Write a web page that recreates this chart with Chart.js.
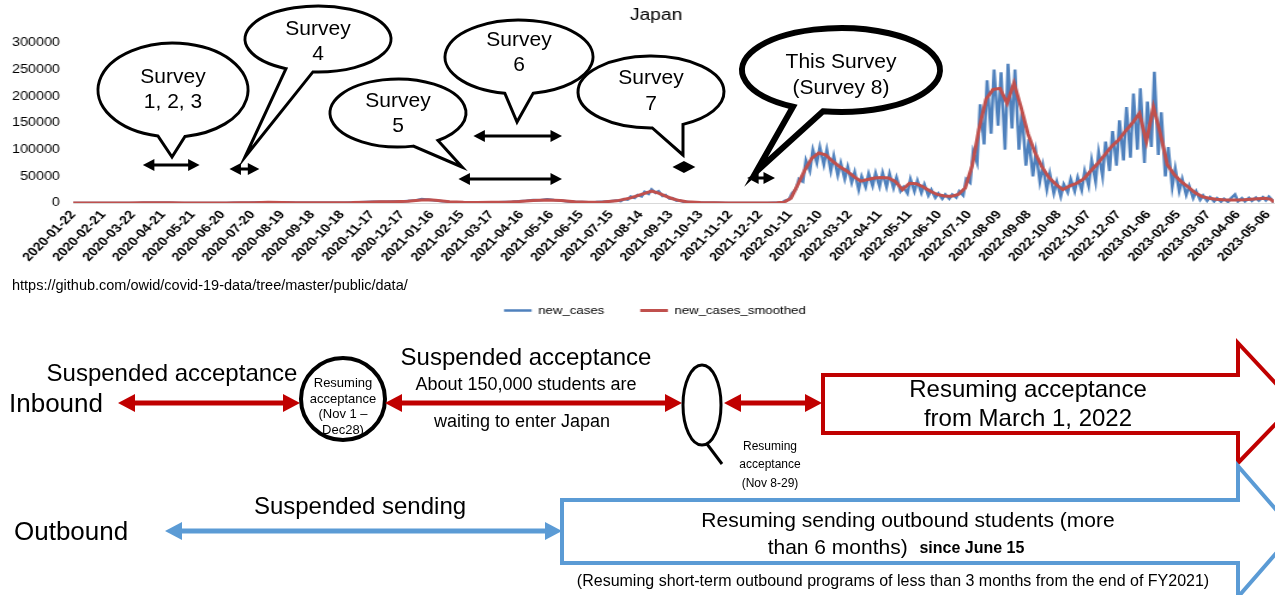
<!DOCTYPE html>
<html>
<head>
<meta charset="utf-8">
<script src="https://cdn.jsdelivr.net/npm/chart.js@4.4.0/dist/chart.umd.min.js"></script>
<style>
    html, body { margin: 0; padding: 0; background: #fff; }
    #wrap { position: relative; width: 1275px; height: 595px; overflow: hidden; }
    #chart { position: absolute; left: 0; top: 0; }
    #overlay { position: absolute; left: 0; top: 0; pointer-events: none; }
</style>
</head>
<body>
<div id="wrap">
    <canvas id="chart" width="1063" height="326" style="width:1275px;height:326px"></canvas>
    <canvas id="overlay" width="1275" height="595"></canvas>
</div>
<script>
// days counted from 2020-01-22
const newCasesDay = [
    0, 7, 14, 21, 28, 35, 42, 49, 56, 63, 70, 77, 84, 91, 98, 105, 112, 119, 126, 133,
    140, 147, 154, 161, 168, 175, 182, 189, 196, 203, 210, 217, 224, 231, 238, 245, 252, 259, 266, 273,
    280, 287, 294, 301, 308, 315, 322, 329, 336, 343, 350, 357, 364, 371, 378, 385, 392, 399, 406, 413,
    420, 427, 434, 441, 448, 455, 462, 469, 476, 483, 490, 497, 504, 511, 518, 525, 532, 539,
    546, 550, 553, 557, 560, 564, 567, 571, 574, 578, 581, 585, 588, 592, 595, 599, 602, 606, 609, 613, 616, 620,
    627, 634, 641, 648, 655, 662, 669, 676, 683, 690, 697, 704, 708,
    712, 715, 719, 722, 726, 729, 733, 736, 740, 743, 747, 750, 754, 757, 761, 764, 768, 771, 775, 778,
    782, 785, 789, 792, 796, 799, 803, 806, 810, 813, 817, 820, 824, 827, 831, 834, 838, 841, 845, 848,
    852, 855, 859, 862, 866, 869, 873, 876, 880, 883, 887, 890, 894, 897, 901, 904, 908, 911, 915, 918,
    922, 925, 929, 932, 936, 939, 943, 946, 950, 953, 957, 960, 964, 967, 971, 974, 978, 981, 985, 988,
    992, 995, 999, 1002, 1006, 1009, 1013, 1016, 1020, 1023, 1027, 1030, 1034, 1037, 1041, 1044, 1048, 1051, 1055, 1058,
    1062, 1065, 1069, 1072, 1076, 1079, 1083, 1086, 1090, 1093, 1097, 1100, 1104, 1107, 1111, 1114, 1118, 1121, 1125, 1128,
    1132, 1135, 1139, 1142, 1146, 1149, 1153, 1156, 1160, 1163, 1167, 1170, 1174, 1177, 1181, 1184, 1188, 1191, 1195, 1198,
    1201, 1204, 1206
];
const newCasesValue = [
    0, 0, 5, 10, 15, 10, 30, 40, 80, 150, 250, 400, 550, 500, 350, 200, 100, 50, 40, 30,
    50, 80, 120, 250, 400, 650, 900, 1300, 1400, 1200, 1000, 800, 600, 500, 450, 550, 500, 600, 550, 700,
    900, 1300, 1800, 2200, 2400, 2300, 2800, 3000, 3800, 4500, 7500, 6000, 4500, 3500, 2000, 1500, 1200, 1000, 1300, 1100,
    1500, 1400, 2000, 2500, 3500, 4300, 5500, 5000, 7000, 5500, 4500, 3000, 2200, 1800, 1500, 1800, 2500, 3200,
    4500, 3500, 7500, 6500, 12000, 9500, 15000, 12500, 21000, 17000, 25500, 19000, 22000, 13000, 15000, 8000, 9000, 4500, 5000, 2200, 2500, 1500,
    900, 500, 400, 280, 180, 150, 130, 160, 150, 200, 180, 350, 500,
    800, 4500, 6500, 18000, 26000, 45000, 40000, 80000, 60000, 100000, 75000, 105000, 72000, 100000, 60000, 88000, 52000, 75000, 45000, 68000,
    38000, 58000, 25000, 50000, 30000, 55000, 32000, 56000, 31000, 57000, 30000, 55000, 28000, 48000, 22000, 30000, 18000, 45000, 22000, 42000,
    19000, 35000, 14000, 25000, 10000, 18000, 8000, 16000, 8000, 16000, 10000, 22000, 14000, 45000, 38000, 97000, 75000, 185000, 110000, 230000,
    130000, 250000, 145000, 245000, 100000, 261000, 140000, 250000, 100000, 170000, 70000, 120000, 50000, 95000, 40000, 70000, 25000, 55000, 18000, 40000,
    12000, 35000, 20000, 45000, 22000, 48000, 24000, 60000, 32000, 80000, 40000, 95000, 50000, 115000, 60000, 135000, 70000, 155000, 80000, 180000,
    85000, 205000, 100000, 215000, 75000, 190000, 105000, 246000, 90000, 170000, 50000, 105000, 30000, 65000, 22000, 45000, 15000, 32000, 9000, 22000,
    6000, 14000, 4000, 11000, 3000, 9000, 2500, 8000, 2000, 9000, 16000, 3000, 9000, 3000, 9500, 4000, 10000, 4500, 11000, 5000,
    12000, 6000, 1000
];

const smoothedDay = [
    0, 28, 56, 70, 84, 98, 112, 126, 140, 154, 168, 182, 196, 210, 224, 238, 252, 266, 280, 294,
    308, 322, 336, 350, 357, 364, 378, 392, 406, 420, 434, 448, 462, 476, 490, 504, 518, 532, 546, 560,
    574, 581, 588, 595, 602, 609, 616, 630, 644, 658, 672, 686, 700, 707, 714, 721, 728, 735, 742, 749,
    756, 763, 770, 777, 784, 791, 798, 805, 812, 819, 826, 833, 840, 847, 854, 861, 868, 875, 882, 889,
    896, 903, 910, 917, 924, 931, 938, 945, 952, 959, 966, 973, 980, 987, 994, 1001, 1008, 1015, 1022, 1029,
    1036, 1043, 1050, 1057, 1064, 1071, 1078, 1085, 1092, 1099, 1106, 1113, 1120, 1127, 1134, 1141, 1148, 1155, 1162, 1169,
    1176, 1183, 1190, 1197, 1203, 1206
];
const smoothedValue = [
    0, 10, 60, 250, 550, 400, 150, 40, 40, 100, 250, 700, 1300, 1100, 700, 500, 550, 600, 800, 1500,
    2200, 2400, 3200, 5500, 6300, 5200, 2500, 1300, 1100, 1200, 1500, 2800, 4700, 5800, 4500, 2300, 1600, 2000, 4000, 9500,
    18000, 22500, 18500, 13000, 8000, 4500, 2500, 800, 350, 200, 150, 150, 200, 400, 1500, 9000, 35000, 62000, 84000, 94000,
    90000, 78000, 68000, 60000, 50000, 41000, 44000, 47000, 48000, 47000, 40000, 25000, 37000, 36000, 30000, 22000, 16000, 13000, 12500, 16000,
    28000, 70000, 140000, 195000, 213000, 215000, 187000, 225000, 180000, 130000, 95000, 68000, 48000, 35000, 25000, 32000, 37000, 45000, 60000, 74000,
    90000, 106000, 118000, 135000, 150000, 168000, 115000, 180000, 130000, 72000, 53000, 40000, 30000, 19000, 12000, 9000, 7000, 6000, 5500, 5500,
    6000, 7000, 8000, 9000, 7000, 1500
];

const yTicks = [0, 50000, 100000, 150000, 200000, 250000, 300000];

// survey periods shown by the arrows under the callouts
const surveyText = [['Survey', '1, 2, 3'], ['Survey', '4'], ['Survey', '5'], ['Survey', '6'], ['Survey', '7'], ['This Survey', '(Survey 8)']];
const surveyFrom = ['2020-04-01', '2020-06-27', '2021-02-12', '2021-02-27', '2021-09-15', '2021-11-29'];
const surveyTo = ['2020-05-28', '2020-07-27', '2021-05-27', '2021-05-27', '2021-10-08', '2021-12-27'];

const FONT = '"Liberation Sans", Arial, sans-serif';
const SX = 1275 / 1063;
const START = Date.UTC(2020, 0, 22);
const PLOT_BOTTOM = 203;

function dayToLabel(d) {
    return new Date(START + d * 86400000).toISOString().slice(0, 10);
}
function dateToDay(s) {
    return Math.round((Date.parse(s) - START) / 86400000);
}

// callout bubble shapes (page pixels)
const bubbles = [
    { cx: 173, cy: 90, rx: 75, ry: 47, a1: 101.5, a2: 80.8, tip: [172, 157], lw: 3, ay: 165, t1: 77, t2: 102 },
    { cx: 318, cy: 39, rx: 73, ry: 33, a1: 116, a2: 94, tip: [245, 157], lw: 3, ay: 169, t1: 29, t2: 54 },
    { cx: 398, cy: 113, rx: 68, ry: 34, a1: 77, a2: 54, tip: [462, 167], lw: 3, ay: 179, t1: 101, t2: 126 },
    { cx: 519, cy: 57, rx: 74, ry: 37, a1: 101, a2: 79, tip: [517, 122], lw: 3, ay: 136, t1: 40, t2: 65 },
    { cx: 651, cy: 92, rx: 73, ry: 36, a1: 89, a2: 64, tip: [683, 155], lw: 3, ay: 167, t1: 78, t2: 104 },
    { cx: 841, cy: 70, rx: 99, ry: 42, a1: 119, a2: 100.5, tip: [756, 172], lw: 6, ay: 178, t1: 62, t2: 88 }
];

function text(c, s, x, y, size, opt) {
    opt = opt || {};
    c.font = (opt.bold ? 'bold ' : '') + size + 'px ' + FONT;
    c.fillStyle = opt.color || '#000';
    c.textAlign = opt.align || 'center';
    c.textBaseline = 'middle';
    c.fillText(s, x, y);
}

function head(c, x, y, dir, hl, hw) {
    c.beginPath();
    c.moveTo(x, y);
    c.lineTo(x + dir * hl, y - hw);
    c.lineTo(x + dir * hl, y + hw);
    c.closePath();
    c.fill();
}

function doubleArrow(c, x1, x2, y, color, w, hl, hw) {
    c.fillStyle = color;
    c.strokeStyle = color;
    c.lineWidth = w;
    c.lineCap = 'butt';
    if (x2 - x1 > 2 * hl) {
        c.beginPath();
        c.moveTo(x1 + hl - 1, y);
        c.lineTo(x2 - hl + 1, y);
        c.stroke();
    }
    head(c, x1, y, 1, hl, hw);
    head(c, x2, y, -1, hl, hw);
}

function bubble(c, b) {
    const r = Math.PI / 180;
    c.beginPath();
    c.moveTo(b.tip[0], b.tip[1]);
    c.ellipse(b.cx, b.cy, b.rx, b.ry, 0, b.a1 * r, (b.a2 + 360) * r, false);
    c.closePath();
    c.fillStyle = '#fff';
    c.fill();
    c.lineWidth = b.lw;
    c.lineJoin = 'miter';
    c.strokeStyle = '#000';
    c.stroke();
}

function blockArrow(c, x0, top, bot, xh, hTop, hBot, tip, color) {
    const ym = (top + bot) / 2;
    c.beginPath();
    c.moveTo(x0, top);
    c.lineTo(xh, top);
    c.lineTo(xh, hTop);
    c.lineTo(tip, ym);
    c.lineTo(xh, hBot);
    c.lineTo(xh, bot);
    c.lineTo(x0, bot);
    c.closePath();
    c.fillStyle = '#fff';
    c.fill();
    c.lineWidth = 4;
    c.lineJoin = 'miter';
    c.strokeStyle = color;
    c.stroke();
}

// draws the callouts, source note and the inbound / outbound diagram
function drawOverlay(chart) {
    const c = document.getElementById('overlay').getContext('2d');
    c.clearRect(0, 0, 1275, 595);
    const xs = chart.scales.x;
    const px = d => xs.getPixelForValue(d) * SX;

    bubbles.forEach(function(b, i) {
        bubble(c, b);
        text(c, surveyText[i][0], b.cx, b.t1, 21);
        text(c, surveyText[i][1], b.cx, b.t2, 21);
        doubleArrow(c, px(dateToDay(surveyFrom[i])), px(dateToDay(surveyTo[i])), b.ay, '#000', 3, 11.5, 6);
    });

    text(c, 'https://github.com/owid/covid-19-data/tree/master/public/data/', 12, 286, 14.5, { align: 'left' });

    const red = '#c00000';
    const blue = '#5b9bd5';

    // inbound row
    text(c, 'Suspended acceptance', 172, 374, 24);
    text(c, 'Inbound', 9, 405, 26, { align: 'left' });
    doubleArrow(c, 118, 300, 403, red, 5, 17, 9);
    c.beginPath();
    c.ellipse(343, 399, 42, 41, 0, 0, Math.PI * 2);
    c.lineWidth = 4; c.strokeStyle = '#000'; c.stroke();
    text(c, 'Resuming', 343, 383, 13);
    text(c, 'acceptance', 343, 399, 13);
    text(c, '(Nov 1 \u2013', 343, 414, 13);
    text(c, 'Dec28)', 343, 430, 13);

    text(c, 'Suspended acceptance', 526, 358, 24);
    text(c, 'About 150,000 students are', 526, 385, 18);
    text(c, 'waiting to enter Japan', 522, 422, 18);
    doubleArrow(c, 385, 682, 403, red, 5, 17, 9);

    c.beginPath();
    c.ellipse(702, 405, 19, 40, 0, 0, Math.PI * 2);
    c.lineWidth = 3; c.strokeStyle = '#000'; c.stroke();
    c.beginPath();
    c.moveTo(707, 444); c.lineTo(722, 464); c.stroke();
    text(c, 'Resuming', 770, 447, 12);
    text(c, 'acceptance', 770, 465, 12);
    text(c, '(Nov 8-29)', 770, 484, 12);
    doubleArrow(c, 724, 822, 403, red, 5, 17, 9);

    blockArrow(c, 823, 375, 433, 1238, 343, 463, 1295, red);
    text(c, 'Resuming acceptance', 1028, 390, 24);
    text(c, 'from March 1, 2022', 1028, 419, 24);

    // outbound row
    text(c, 'Outbound', 14, 533, 26, { align: 'left' });
    text(c, 'Suspended sending', 360, 507, 24);
    doubleArrow(c, 165, 562, 531, blue, 5, 17, 9);

    blockArrow(c, 562, 500, 563, 1238, 466, 597, 1295, blue);
    text(c, 'Resuming sending outbound students (more', 908, 521, 21);
    c.font = '21px ' + FONT;
    const w1 = c.measureText('than 6 months)  ').width;
    c.font = 'bold 16px ' + FONT;
    const w2 = c.measureText('since June 15').width;
    const x0 = 896 - (w1 + w2) / 2;
    text(c, 'than 6 months)  ', x0, 548, 21, { align: 'left' });
    text(c, 'since June 15', x0 + w1, 549, 16, { align: 'left', bold: true });
    text(c, '(Resuming short-term outbound programs of less than 3 months from the end of FY2021)', 893, 582, 16);
}

const titlePlugin = {
    id: 'titleAndOverlay',
    afterLayout(chart) {
        // move the legend a little right, as in the source figure
        chart.legend.left += 15;
        chart.legend.right += 15;
    },
    afterDraw(chart) {
        const ctx = chart.ctx;
        ctx.save();
        text(ctx, 'Japan', 547, 16, 16);
        ctx.restore();
    },
    afterRender(chart) {
        drawOverlay(chart);
    }
};

const ctx = document.getElementById('chart').getContext('2d');
new Chart(ctx, {
    type: 'line',
    data: {
        datasets: [{
            label: 'new_cases',
            data: newCasesDay.map((d, i) => ({ x: d, y: newCasesValue[i] })),
            borderColor: '#4f81bd',
            backgroundColor: '#4f81bd',
            borderWidth: 2.5,
            pointRadius: 0,
            order: 1
        }, {
            label: 'new_cases_smoothed',
            data: smoothedDay.map((d, i) => ({ x: d, y: smoothedValue[i] })),
            borderColor: '#c0504d',
            backgroundColor: '#c0504d',
            borderWidth: 3,
            pointRadius: 0,
            order: 0
        }]
    },
    options: {
        responsive: false,
        animation: false,
        devicePixelRatio: 1,
        layout: { padding: { top: 43, right: 1, left: 0, bottom: 0 } },
        scales: {
            x: {
                type: 'linear',
                min: 0,
                max: 1206,
                grid: { display: false, drawTicks: false },
                border: { color: '#d9d9d9', width: 1 },
                ticks: {
                    stepSize: 30,
                    includeBounds: false,
                    autoSkip: false,
                    minRotation: 50,
                    maxRotation: 50,
                    padding: 5,
                    color: '#000',
                    font: { family: FONT, size: 12, weight: 'bold' },
                    callback: v => dayToLabel(v)
                },
                afterFit(s) {
                    const lg = s.chart.legend;
                    s.height = s.chart.height - (lg ? lg.height : 51) - PLOT_BOTTOM;
                    s.paddingLeft = 0;
                    s.paddingRight = 0;
                }
            },
            y: {
                min: 0,
                max: 300000,
                afterBuildTicks(s) {
                    s.ticks = yTicks.map(v => ({ value: v }));
                },
                grid: { display: false, drawTicks: false },
                border: { display: false },
                ticks: {
                    padding: 11,
                    color: '#000',
                    font: { family: FONT, size: 12 },
                    callback: v => String(v)
                },
                afterFit(s) {
                    s.width = 61;
                }
            }
        },
        plugins: {
            legend: {
                position: 'bottom',
                labels: {
                    usePointStyle: true,
                    pointStyle: 'line',
                    pointStyleWidth: 23,
                    padding: 30,
                    color: '#000',
                    font: { family: FONT, size: 11 },
                    sort: (a, b) => a.datasetIndex - b.datasetIndex
                }
            },
            tooltip: { enabled: false }
        }
    },
    plugins: [titlePlugin]
});
</script>
</body>
</html>
